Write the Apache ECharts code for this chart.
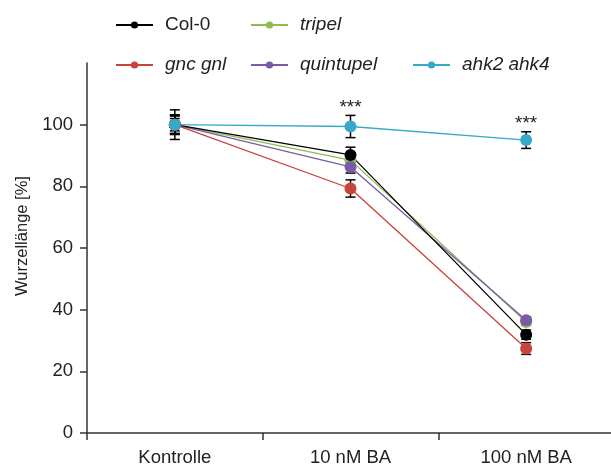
<!DOCTYPE html>
<html>
<head>
<meta charset="utf-8">
<script src="https://cdn.jsdelivr.net/npm/echarts@6/dist/echarts.min.js"></script>
<style>
  html, body { margin: 0; padding: 0; background: #fff; }
  #chart { width: 611px; height: 466px; }
</style>
</head>
<body>
<div id="chart"></div>
<script>
// Treatments on the x axis
const categories = ['Kontrolle', '10 nM BA', '100 nM BA'];

// Mean root length (% of control) per genotype
const col0      = [100, 90.2, 31.9];
const tripel    = [100, 88.5, 36.0];
const gncgnl    = [100, 79.3, 27.4];
const quintupel = [100, 86.3, 36.6];
const ahk2ahk4  = [100, 99.4, 95.0];

// Standard error per point
const col0Err      = [4.8, 2.5, 1.5];
const tripelErr    = [3.2, 2.0, 1.0];
const gncgnlErr    = [3.0, 2.8, 1.9];
const quintupelErr = [2.8, 2.0, 1.0];
const ahk2ahk4Err  = [2.0, 3.6, 2.7];

// Significance marks for ahk2 ahk4
const ahkSig = ['', '***', '***'];

const yTicks = [0, 20, 40, 60, 80, 100];

const FONT = 'Liberation Sans, Arial, sans-serif';
const TEXT = '#222';

const genotypes = [
  { name: 'tripel',    data: tripel,    err: tripelErr,    color: '#8fbc4f', italic: true },
  { name: 'quintupel', data: quintupel, err: quintupelErr, color: '#7a5aa6', italic: true },
  { name: 'Col-0',     data: col0,      err: col0Err,      color: '#000000', italic: false },
  { name: 'gnc gnl',   data: gncgnl,    err: gncgnlErr,    color: '#c9423d', italic: true },
  { name: 'ahk2 ahk4', data: ahk2ahk4,  err: ahk2ahk4Err,  color: '#38a8c9', italic: true, sig: ahkSig }
];

// Legend slots: [name, left, top]
const legendSlots = [
  ['Col-0', 115, 15],
  ['tripel', 250, 15],
  ['gnc gnl', 115, 55],
  ['quintupel', 250, 55],
  ['ahk2 ahk4', 412, 55]
];

const legends = legendSlots.map(([name, left, top]) => {
  const g = genotypes.find(x => x.name === name);
  return {
    data: [name],
    left: left,
    top: top,
    padding: 0,
    itemWidth: 37,
    itemHeight: 9,
    itemGap: 0,
    selectedMode: false,
    textStyle: {
      fontFamily: FONT,
      fontSize: 19,
      lineHeight: 20,
      color: TEXT,
      fontStyle: g.italic ? 'italic' : 'normal',
      padding: [0, 0, 0, 7]
    }
  };
});

function errorSeries(g) {
  const items = g.data.map((v, i) => [i, v, g.err[i], g.sig ? g.sig[i] : '']);
  return {
    type: 'custom',
    name: g.name + ' err',
    z: 1,
    silent: true,
    data: items,
    encode: { x: 0, y: 1 },
    renderItem: function (params, api) {
      const i = api.value(0);
      const m = api.value(1);
      const e = api.value(2);
      const top = api.coord([i, m + e]);
      const bot = api.coord([i, m - e]);
      const hw = 5;
      const style = { stroke: '#000', lineWidth: 1.5 };
      const children = [
        { type: 'line', shape: { x1: top[0], y1: top[1], x2: bot[0], y2: bot[1] }, style: style },
        { type: 'line', shape: { x1: top[0] - hw, y1: top[1], x2: top[0] + hw, y2: top[1] }, style: style },
        { type: 'line', shape: { x1: bot[0] - hw, y1: bot[1], x2: bot[0] + hw, y2: bot[1] }, style: style }
      ];
      const sig = items[params.dataIndex][3];
      if (sig) {
        children.push({
          type: 'text',
          style: {
            text: sig, x: top[0], y: top[1] - 8,
            align: 'center', verticalAlign: 'middle',
            fontFamily: FONT, fontSize: 19, fill: TEXT
          }
        });
      }
      return { type: 'group', children: children };
    }
  };
}

const series = [];
genotypes.forEach(g => series.push(errorSeries(g)));
genotypes.forEach(g => series.push({
  type: 'line',
  name: g.name,
  data: g.data,
  z: 2,
  symbol: 'circle',
  symbolSize: 12,
  lineStyle: { color: g.color, width: 1.3 },
  itemStyle: { color: g.color },
  emphasis: { disabled: true },
  animation: false
}));

const chart = echarts.init(document.getElementById('chart'), null, { renderer: 'canvas' });
chart.setOption({
  animation: false,
  backgroundColor: '#fff',
  legend: legends,
  graphic: [{
    type: 'text',
    x: 22,
    y: 236,
    rotation: Math.PI / 2,
    style: {
      text: 'Wurzellänge [%]',
      align: 'center',
      verticalAlign: 'middle',
      fontFamily: FONT,
      fontSize: 16.5,
      fill: TEXT
    }
  }],
  grid: { left: 87, top: 63, width: 527, bottom: 33, containLabel: false, outerBoundsMode: 'none' },
  xAxis: {
    type: 'category',
    data: categories,
    boundaryGap: true,
    axisLine: { lineStyle: { color: '#333', width: 1.5 } },
    axisTick: { show: true, length: 7, interval: 0, lineStyle: { color: '#333', width: 1.5 } },
    axisLabel: { fontFamily: FONT, fontSize: 18.5, color: TEXT, margin: 15, interval: 0 }
  },
  yAxis: {
    type: 'value',
    min: 0,
    max: 120,
    interval: 20,
    axisLine: { show: true, lineStyle: { color: '#333', width: 1.5 } },
    axisTick: { show: true, length: 7, customValues: yTicks, lineStyle: { color: '#333', width: 1.5 } },
    axisLabel: { fontFamily: FONT, fontSize: 18.5, color: TEXT, margin: 14, customValues: yTicks },
    splitLine: { show: false }
  },
  series: series
});
</script>
</body>
</html>
